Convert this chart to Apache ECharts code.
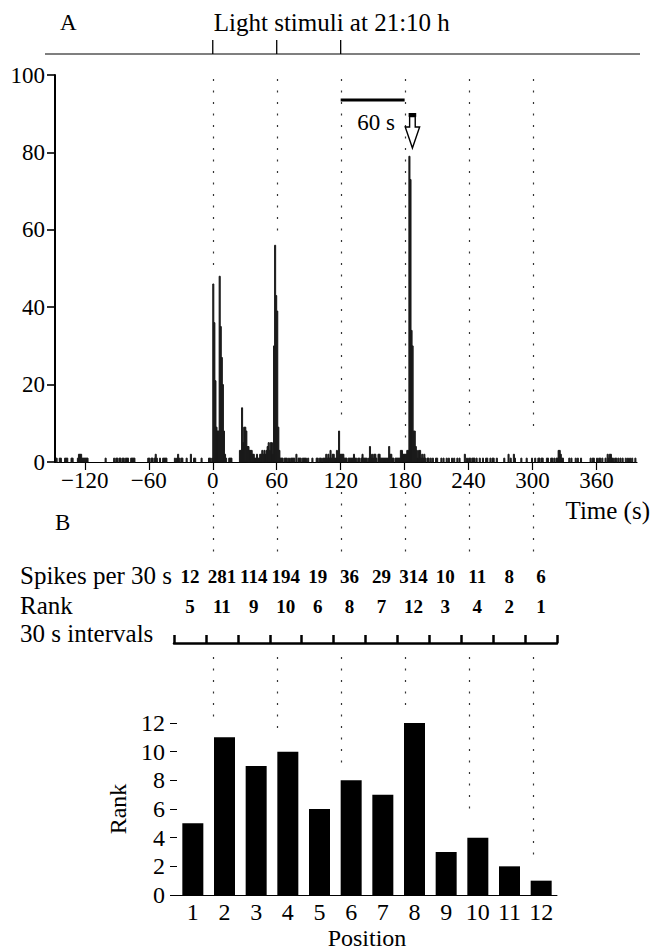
<!DOCTYPE html>
<html><head><meta charset="utf-8">
<script src="https://cdn.jsdelivr.net/npm/echarts@6/dist/echarts.min.js"></script>
<style>html,body{margin:0;padding:0;background:#fff}#c{width:652px;height:951px}</style>
</head><body><div id="c"></div>
<script>
// ---------- DATA ----------
// Panel A: spike counts in 1-s bins, blocks by start time (s)
const histStart = -148;
const binsBefore = [
  0,1,0,0,1,1,0,0,0,1,
  1,1,0,0,0,1,1,0,0,0,
  0,1,2,2,2,1,1,1,1,1,
  1,0,0,0,0,0,0,0,0,0,
  0,0,0,0,0,0,0,1,0,0,
  0,0,0,0,0,1,0,1,1,0,
  1,1,0,1,1,0,1,1,1,0,
  0,1,1,1,1,0,0,0,0,0,
  0,0,0,0,0,0,0,1,1,0,
  1,1,0,1,2,1,0,0,1,0,
  0,1,1,1,1,0,0,0,0,0,
  0,0,1,0,1,2,1,0,1,1,
  0,0,0,1,0,0,0,2,0,0,
  1,1,0,0,0,0,0,1,0,0,
  0,0,0,0,1,1,0,1];                    // -148 .. -1
const binsStim1  = [46,36,21,9,8,8,48,35,27,20,8,2,1,0,0,1,1,1,0,0,0,0,0,0,0,3,3,14,5,9];   // 0..29
const binsStim1b = [9,8,4,4,3,3,3,2,2,1,1,2,1,1,2,2,3,2,3,2,3,4,5,3,5,5,2,30,56,43];        // 30..59
const binsStim2  = [39,9,3,1,1,1,0,1,1,1,0,1,0,1,1,1,1,0,2,0,1,1,1,0,1,1,1,1,0,1];          // 60..89
const binsQuiet  = [0,0,0,1,0,0,0,1,1,0,1,1,0,1,1,1,2,1,2,1,3,1,2,2,1,1,3,1,8,2];           // 90..119
const binsStim3  = [2,2,2,1,1,1,0,1,1,1,1,1,2,1,1,0,1,1,0,1,2,1,1,1,1,0,1,4,1,2];           // 120..149
const binsLate   = [1,2,2,1,0,2,2,1,1,1,1,1,1,1,1,4,2,2,1,1,0,1,1,1,1,1,3,3,2,2];           // 150..179
const binsResponse = [2,2,3,3,79,73,34,30,8,8,4,3,1,3,3,1,2,1,2,1,0,1,1,0,1,0,1,0,0,1];     // 180..209
const binsAfter = [
  1,0,0,0,1,0,1,0,0,1,
  0,1,0,0,1,0,1,0,0,1,
  0,1,0,0,0,0,2,0,1,0,
  1,1,0,1,1,1,0,1,0,0,
  1,0,0,1,0,0,1,1,0,0,
  1,0,1,1,0,0,1,0,0,0,
  0,0,0,1,0,0,0,2,0,1,
  0,0,2,1,0,0,0,0,0,1,
  0,0,0,0,1,0,0,0,0,1,
  0,0,1,0,0,1,1,0,1,1,
  0,0,0,1,1,0,0,1,1,0,
  1,0,1,1,3,3,2,1,1,0,
  0,0,0,0,1,0,1,0,0,0,
  1,0,1,0,0,1,0,0,0,0,
  0,0,0,0,1,0,1,1,0,0,
  1,0,1,1,0,1,0,0,1,0,
  2,1,2,2,1,1,0,1,1,0,
  1,0,1,0,1,0,0,1,0,1,
  0,1,0,1,0,0,1,0];                     // 210..397
const timeTicks = [-120, -60, 0, 60, 120, 180, 240, 300, 360];
const stimulusTimes = [0, 60, 120];
const guideTimes = [0, 60, 120, 180, 240, 300];

// Panel B
const positions = ['1','2','3','4','5','6','7','8','9','10','11','12'];
const spikesPer30s = [12, 281, 114, 194, 19, 36, 29, 314, 10, 11, 8, 6];
const rankValues = [5, 11, 9, 10, 6, 8, 7, 12, 3, 4, 2, 1];

// ---------- BUILD ----------
const allBins = [].concat(binsBefore, binsStim1, binsStim1b, binsStim2, binsQuiet,
  binsStim3, binsLate, binsResponse, binsAfter);
const histData = allBins.map((v, i) => [histStart + i, v]);
const respStart = 180;
let peakIdx = 0;
binsResponse.forEach((v, i) => { if (v > binsResponse[peakIdx]) peakIdx = i; });
const peakTime = respStart + peakIdx;

const SERIF = "'Liberation Serif','Times New Roman',Times,serif";
const FS = 23;
const FL = 25;
const chart = echarts.init(document.getElementById('c'), null, {renderer: 'svg'});
const axisTextStyle = {color: '#000', fontFamily: SERIF, fontSize: FS};

chart.setOption({
  animation: false,
  backgroundColor: '#fff',
  grid: [
    {left: 55, top: 75, width: 582, height: 387},
    {left: 177, top: 723, width: 380, height: 173},
    {left: 174, top: 642, width: 383, height: 1}
  ],
  xAxis: [
    {type: 'value', gridIndex: 0, min: -148, max: 398, position: 'bottom',
     axisLine: {show: true, onZero: false, lineStyle: {color: '#000', width: 1.2}},
     axisTick: {show: true, length: 8, customValues: timeTicks, lineStyle: {color: '#000', width: 1.2}},
     axisLabel: Object.assign({customValues: timeTicks, margin: 7,
       formatter: v => v < 0 ? '\u2212' + (-v) : String(v)}, axisTextStyle),
     splitLine: {show: false}},
    {type: 'category', gridIndex: 1, data: positions,
     axisLine: {show: true, onZero: false, lineStyle: {color: '#000', width: 1}},
     axisTick: {show: false},
     axisLabel: Object.assign({margin: 5}, axisTextStyle, {fontSize: 24}),
     name: 'Position', nameLocation: 'middle', nameGap: 31,
     nameTextStyle: {color: '#000', fontFamily: SERIF, fontSize: 24}},
    {type: 'category', gridIndex: 2, data: positions,
     axisLine: {show: true, onZero: false, lineStyle: {color: '#000', width: 2.5}},
     axisTick: {show: true, inside: true, length: 8, lineStyle: {color: '#000', width: 2.5}},
     axisLabel: {show: false}}
  ],
  yAxis: [
    {type: 'value', gridIndex: 0, min: 0, max: 100, interval: 20, position: 'left',
     axisLine: {show: true, onZero: false, lineStyle: {color: '#000', width: 2}},
     axisTick: {show: true, length: 8, lineStyle: {color: '#000', width: 1.6}},
     axisLabel: Object.assign({margin: 10}, axisTextStyle),
     splitLine: {show: false}},
    {type: 'value', gridIndex: 1, min: 0, max: 12, interval: 2,
     axisLine: {show: false, onZero: false},
     axisTick: {show: true, length: 7, lineStyle: {color: '#000', width: 1}},
     axisLabel: Object.assign({margin: 12}, axisTextStyle, {fontSize: 24}),
     splitLine: {show: false},
     name: 'Rank', nameLocation: 'middle', nameGap: 47, nameRotate: 90,
     nameTextStyle: {color: '#000', fontFamily: SERIF, fontSize: 24}},
    {type: 'value', gridIndex: 2, show: false}
  ],
  series: [
    {type: 'custom', xAxisIndex: 0, yAxisIndex: 0, data: histData,
     encode: {x: 0, y: 1},
     renderItem: function (params, api) {
       const t = api.value(0), v = api.value(1);
       if (!v) return null;
       const p0 = api.coord([t, 0]);
       const p1 = api.coord([t + 1, v]);
       return {type: 'rect',
         shape: {x: p0[0], y: p1[1], width: p1[0] - p0[0], height: p0[1] - p1[1]},
         style: {fill: '#1a1a1a', stroke: '#1a1a1a', lineWidth: 1}};
     }},
    {type: 'bar', xAxisIndex: 1, yAxisIndex: 1, data: rankValues,
     barWidth: 21, itemStyle: {color: '#000'}}
  ]
});

// ---------- ANNOTATIONS (positioned through the axes) ----------
const ph = (t, v) => chart.convertToPixel({seriesIndex: 0}, [t, v]);
const xh = t => ph(t, 0)[0];
const xi = i => chart.convertToPixel({xAxisIndex: 2}, i);
const g = [];
const txt = (text, x, y, opts) => g.push({type: 'text', silent: true,
  style: Object.assign({text: text, x: x, y: y, fill: '#000',
    font: FS + 'px ' + SERIF, textAlign: 'left', textVerticalAlign: 'middle',
    align: 'left', verticalAlign: 'middle'}, opts || {})});
const line = (x1, y1, x2, y2, w, dash, color) => g.push({type: 'line', silent: true,
  shape: {x1: x1, y1: y1, x2: x2, y2: y2},
  style: {stroke: color || '#000', lineWidth: w, lineDash: dash || null}});

txt('A', 60, 22);
txt('Light stimuli at 21:10 h', xh(0) + 1, 22, {font: FL + 'px ' + SERIF});
line(45, 54, 640, 54, 1.2);
stimulusTimes.forEach(t => line(xh(t), 40, xh(t), 54, 1.3));

// dotted guides at 60-s marks
const guideEndsA = [268, 233, 417, 442, 430, 430];
const guideEndsB = [717, 730, 765, 705, 810, 855];
guideTimes.forEach((t, i) => {
  const x = Math.round(xh(t)) + 0.5;
  line(x, 79, x, guideEndsA[i], 1.2, [2, 9.5], '#333');
  line(x, 492, x, 553, 1.2, [2, 9.5], '#333');
  line(x, 657, x, guideEndsB[i], 1.2, [2, 9.5], '#333');
});

// 60 s scale bar and arrow to peak
line(xh(120), 100, xh(180), 100, 3);
txt('60 s', 376, 122, {textAlign: 'center', align: 'center'});
const ax = xh(peakTime + 0.5) + 3;
g.push({type: 'rect', silent: true, shape: {x: ax - 3.8, y: 113, width: 7.6, height: 3.8}, style: {fill: '#000'}});
g.push({type: 'polygon', silent: true,
  shape: {points: [[ax - 2.8, 116.5], [ax + 2.8, 116.5], [ax + 2.8, 127], [ax + 7.2, 127], [ax, 148],
                   [ax - 7.2, 127], [ax - 2.8, 127]]},
  style: {fill: '#fff', stroke: '#000', lineWidth: 1.4}});

txt('Time (s)', 650, 510, {textAlign: 'right', align: 'right', font: FL + 'px ' + SERIF});
txt('B', 55, 522);
txt('Spikes per 30 s', 20, 575, {font: FL + 'px ' + SERIF});
txt('Rank', 20, 605, {font: FL + 'px ' + SERIF});
txt('30 s intervals', 20, 633, {font: FL + 'px ' + SERIF});
spikesPer30s.forEach((v, i) => txt(String(v), xi(i), 576,
  {textAlign: 'center', align: 'center', font: 'bold 19px ' + SERIF}));
rankValues.forEach((v, i) => txt(String(v), xi(i), 606,
  {textAlign: 'center', align: 'center', font: 'bold 19px ' + SERIF}));

chart.setOption({graphic: g});
</script></body></html>
